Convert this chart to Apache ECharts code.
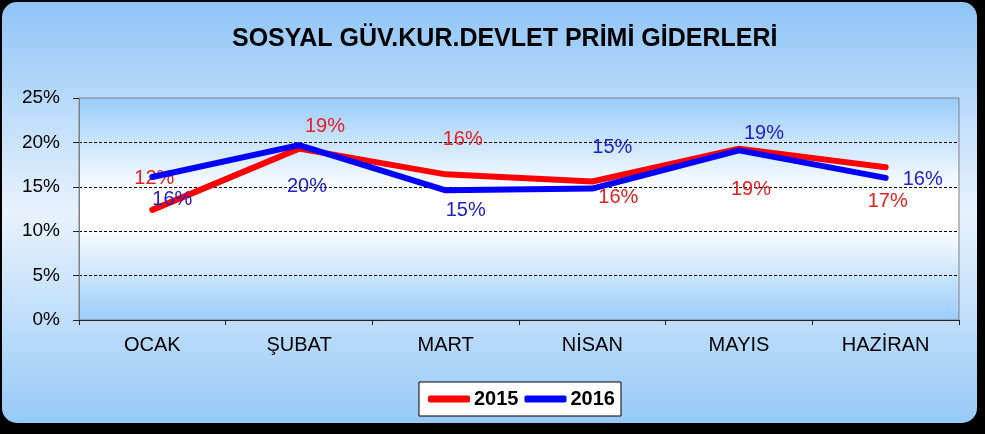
<!DOCTYPE html>
<html>
<head>
<meta charset="utf-8">
<script src="https://cdn.jsdelivr.net/npm/echarts@6/dist/echarts.min.js"></script>
<style>
html,body{margin:0;padding:0;background:#000;}
#c{width:985px;height:434px;}
</style>
</head>
<body>
<div id="c"></div>
<script>
var titleText = 'SOSYAL GÜV.KUR.DEVLET PRİMİ GİDERLERİ';
var categories = ['OCAK', 'ŞUBAT', 'MART', 'NİSAN', 'MAYIS', 'HAZİRAN'];
var seriesNames = ['2015', '2016'];
var values2015 = [12.4, 19.3, 16.4, 15.6, 19.3, 17.2];
var values2016 = [16.1, 19.7, 14.6, 14.8, 19.1, 16.0];
var yTicks = [0, 5, 10, 15, 20, 25];

// label placement (style only)
var labelOffsets2015 = [[2,-31],[26,-22],[17,-35],[26,16],[12,41],[2,34]];
var labelOffsets2016 = [[20,22],[8,41],[20,20],[20,-41],[25,-17],[37,2]];

function buildData(vals, offs){
  return vals.map(function(v,i){
    return {value: v, label: {offset: offs[i]}};
  });
}

var FONT = 'Liberation Sans, Arial, sans-serif';
var chart = echarts.init(document.getElementById('c'), null, {renderer:'canvas'});
chart.setOption({
  backgroundColor: '#000',
  animation: false,
  graphic: [{
    type: 'rect', z: -10, silent: true,
    shape: {x: 2, y: 2, width: 975, height: 421, r: 15},
    style: {fill: new echarts.graphic.LinearGradient(0,0,0,1,[
      {offset:0, color:'#8fc5f7'},
      {offset:0.5, color:'#e8f2fd'},
      {offset:1, color:'#97caf8'}
    ])}
  }],
  title: {
    text: titleText, left: 227, top: 22,
    textStyle: {fontFamily: FONT, fontSize: 25, fontWeight: 'bold', color: '#000'}
  },
  legend: {
    data: seriesNames,
    left: 419, top: 382,
    itemWidth: 42, itemHeight: 7, itemGap: 6,
    icon: 'roundRect',
    padding: [7, 6, 7, 9],
    backgroundColor: '#fff', borderColor: '#000', borderWidth: 1,
    textStyle: {fontFamily: FONT, fontSize: 20, fontWeight: 'bold', color: '#000', padding: [0,0,0,-1]}
  },
  grid: {
    left: 79, right: 26, top: 98, bottom: 114,
    show: true,
    borderColor: '#808080', borderWidth: 1,
    backgroundColor: new echarts.graphic.LinearGradient(0,0,0,1,[
      {offset:0, color:'#99ccfb'},
      {offset:0.42, color:'#ffffff'},
      {offset:0.58, color:'#ffffff'},
      {offset:1, color:'#99ccfb'}
    ])
  },
  xAxis: {
    type: 'category', data: categories, boundaryGap: true,
    axisLine: {lineStyle: {color: '#222', width: 1}},
    axisTick: {show: true, length: 5, lineStyle: {color: '#222'}},
    axisLabel: {fontFamily: FONT, fontSize: 20, color: '#000', margin: 15},
    splitLine: {show: false}
  },
  yAxis: {
    type: 'value', min: 0, max: 25, interval: 5,
    axisLine: {show: true, lineStyle: {color: '#808080'}},
    axisTick: {show: true, length: 6, lineStyle: {color: '#222'}},
    axisLabel: {fontFamily: FONT, fontSize: 19, color: '#000', margin: 19, formatter: '{value}%'},
    splitLine: {show: true, showMinLine: false, showMaxLine: false,
      lineStyle: {color: '#000', width: 1, type: [3, 2]}}
  },
  series: [
    {
      name: seriesNames[0], type: 'line', data: buildData(values2015, labelOffsets2015),
      symbol: 'circle', symbolSize: 1, showSymbol: true,
      lineStyle: {color: '#ff0000', width: 6, cap: 'round', join: 'round'},
      itemStyle: {color: '#ff0000'},
      label: {show: true, position: 'inside', fontFamily: FONT, fontSize: 20, color: '#e8201f',
        formatter: function(p){ return Math.round(p.value) + '%'; }},
      z: 2
    },
    {
      name: seriesNames[1], type: 'line', data: buildData(values2016, labelOffsets2016),
      symbol: 'circle', symbolSize: 1, showSymbol: true,
      lineStyle: {color: '#0000ff', width: 6, cap: 'round', join: 'round'},
      itemStyle: {color: '#0000ff'},
      label: {show: true, position: 'inside', fontFamily: FONT, fontSize: 20, color: '#2020d0',
        formatter: function(p){ return Math.round(p.value) + '%'; }},
      z: 3
    }
  ]
});
</script>
</body>
</html>
